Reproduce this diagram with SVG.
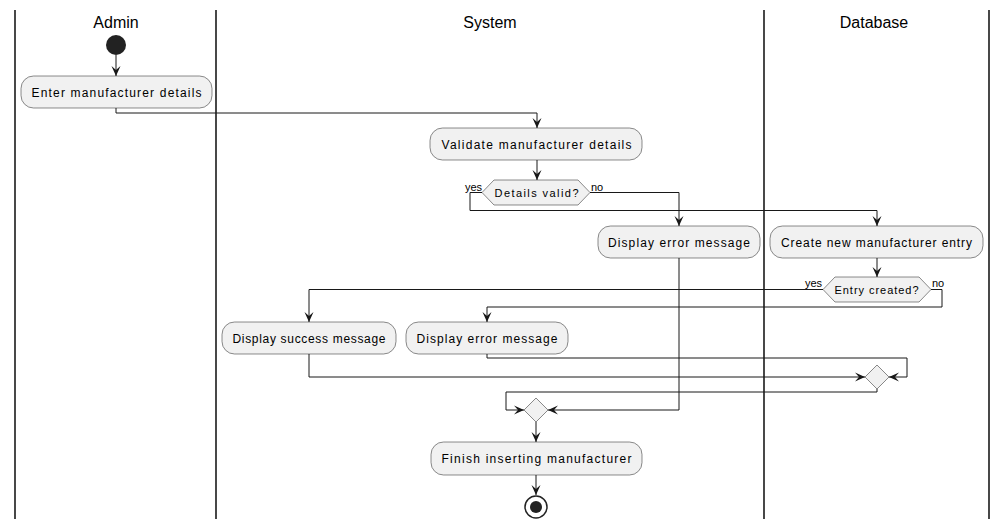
<svg xmlns="http://www.w3.org/2000/svg" width="1008" height="529" viewBox="0 0 1008 529">
<defs>
<marker id="ah" viewBox="0 0 10 10" refX="10" refY="5" markerWidth="10" markerHeight="10" orient="auto" markerUnits="userSpaceOnUse"><path d="M0,0.5 L10,5 L0,9.5 L4,5 Z" fill="#181818"/></marker>
<style>
.lane{stroke:#1a1a1a;stroke-width:1.6;fill:none}
.hdr{font-family:"Liberation Sans",Arial,sans-serif;font-size:16px;fill:#000;text-anchor:middle}
.box{fill:#F1F1F1;stroke:#181818;stroke-width:0.5}
.t{font-family:"Liberation Sans",Arial,sans-serif;font-size:12px;fill:#000;text-anchor:middle}
.dt{font-family:"Liberation Sans",Arial,sans-serif;font-size:11px;fill:#000;text-anchor:middle}
.lbl{font-family:"Liberation Sans",Arial,sans-serif;font-size:11px;fill:#000}
.e{fill:none;stroke:#181818;stroke-width:1}
.ea{fill:none;stroke:#181818;stroke-width:1;marker-end:url(#ah)}
</style>
</defs>
<rect width="1008" height="529" fill="#FFFFFF"/>
<g id="lanes">
<line class="lane" x1="15" y1="10" x2="15" y2="519"/>
<line class="lane" x1="216" y1="10" x2="216" y2="519"/>
<line class="lane" x1="764" y1="10" x2="764" y2="519"/>
<line class="lane" x1="989" y1="10" x2="989" y2="519"/>
<text class="hdr" x="116" y="28">Admin</text>
<text class="hdr" x="490" y="28">System</text>
<text class="hdr" x="874" y="28">Database</text>
</g>
<g id="connectors">
<path class="ea" d="M116,55 L116,76"/>
<path class="ea" d="M116,108 L116,113 L537,113 L537,128"/>
<path class="ea" d="M537,160 L537,180"/>
<path class="ea" d="M590,192.5 L679,192.5 L679,226"/>
<path class="ea" d="M482,192.5 L470,192.5 L470,210.5 L877,210.5 L877,226"/>
<path class="ea" d="M877,258 L877,277"/>
<path class="ea" d="M823,289.5 L309,289.5 L309,322"/>
<path class="ea" d="M931,289.5 L942,289.5 L942,307 L487,307 L487,322"/>
<path class="ea" d="M309,354 L309,377 L865,377"/>
<path class="ea" d="M487,354 L487,358 L907,358 L907,377 L889,377"/>
<path class="ea" d="M877,389 L877,392 L506,392 L506,410 L524,410"/>
<path class="ea" d="M679,258 L679,410 L548,410"/>
<path class="ea" d="M536,422 L536,442"/>
<path class="ea" d="M536,475 L536,495"/>
<text class="lbl" x="482" y="191" text-anchor="end">yes</text>
<text class="lbl" x="591" y="191">no</text>
<text class="lbl" x="822" y="287" text-anchor="end">yes</text>
<text class="lbl" x="932" y="287">no</text>
</g>
<g id="start"><circle cx="116" cy="45" r="10" fill="#222222"/></g>
<g id="enter"><rect class="box" x="21" y="76" width="191" height="32" rx="12.5"/><text class="t" x="116.5" y="96.5" textLength="170" lengthAdjust="spacing">Enter manufacturer details</text></g>
<g id="validate"><rect class="box" x="430" y="128" width="212" height="32" rx="12.5"/><text class="t" x="536.5" y="148.5" textLength="190" lengthAdjust="spacing">Validate manufacturer details</text></g>
<g id="valid-decision"><polygon class="box" points="482,192.5 494,180 578,180 590,192.5 578,205 494,205"/><text class="dt" x="536.5" y="197" textLength="84" lengthAdjust="spacing">Details valid?</text></g>
<g id="error-sys"><rect class="box" x="598" y="226" width="162" height="32" rx="12.5"/><text class="t" x="679" y="246.5" textLength="142" lengthAdjust="spacing">Display error message</text></g>
<g id="create"><rect class="box" x="770" y="226" width="213" height="32" rx="12.5"/><text class="t" x="876.5" y="246.5" textLength="191" lengthAdjust="spacing">Create new manufacturer entry</text></g>
<g id="created-decision"><polygon class="box" points="823,289.5 835,277 919,277 931,289.5 919,302 835,302"/><text class="dt" x="876.5" y="294" textLength="84" lengthAdjust="spacing">Entry created?</text></g>
<g id="success"><rect class="box" x="222" y="322" width="174" height="32" rx="12.5"/><text class="t" x="309" y="342.5" textLength="153" lengthAdjust="spacing">Display success message</text></g>
<g id="error-db"><rect class="box" x="406" y="322" width="162" height="32" rx="12.5"/><text class="t" x="487" y="342.5" textLength="141" lengthAdjust="spacing">Display error message</text></g>
<g id="merge1"><polygon class="box" points="865,377 877,365 889,377 877,389"/></g>
<g id="merge2"><polygon class="box" points="524,410 536,398 548,410 536,422"/></g>
<g id="finish"><rect class="box" x="431" y="442" width="211" height="33" rx="12.5"/><text class="t" x="536.5" y="463" textLength="190" lengthAdjust="spacing">Finish inserting manufacturer</text></g>
<g id="end"><circle cx="536" cy="507" r="11" fill="none" stroke="#222222" stroke-width="1.5"/><circle cx="536" cy="507" r="6" fill="#222222"/></g>
</svg>
